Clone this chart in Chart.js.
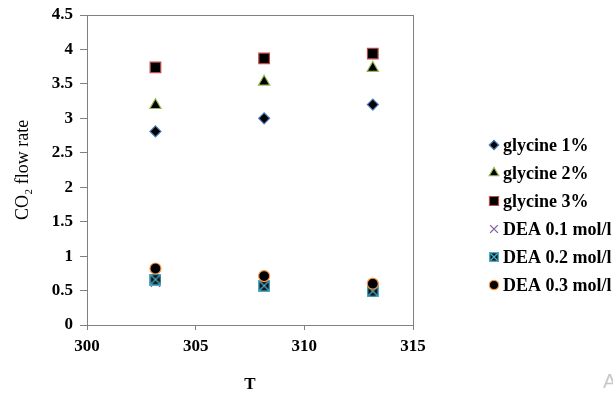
<!DOCTYPE html>
<html><head><meta charset="utf-8">
<script src="https://cdn.jsdelivr.net/npm/chart.js@4"></script>
<style>html,body{margin:0;padding:0;background:#fff;}#wrap{width:613px;height:398px;}</style>
</head><body><div id="wrap"><canvas id="c" width="613" height="398"></canvas></div>
<script>
const temperatures = [303.15, 308.15, 313.15];
const seriesNames = ['glycine 1%', 'glycine 2%', 'glycine 3%', 'DEA 0.1 mol/l', 'DEA 0.2 mol/l', 'DEA 0.3 mol/l'];
const glycine1 = [2.81, 3.00, 3.20];
const glycine2 = [3.19, 3.53, 3.73];
const glycine3 = [3.74, 3.87, 3.94];
const dea01 = [0.62, 0.56, 0.50];
const dea02 = [0.66, 0.57, 0.49];
const dea03 = [0.82, 0.71, 0.60];
const xTickValues = [300, 305, 310, 315];
const yTickValues = [0, 0.5, 1, 1.5, 2, 2.5, 3, 3.5, 4, 4.5];

function xMarker(size) {
  const c = document.createElement('canvas');
  c.width = size; c.height = size;
  const g = c.getContext('2d');
  g.fillStyle = '#0b0f14';
  g.fillRect(0, 0, size, size);
  g.strokeStyle = '#4bacc6';
  g.lineWidth = 1.4;
  g.strokeRect(0.7, 0.7, size - 1.4, size - 1.4);
  g.beginPath();
  g.moveTo(1.5, 1.5); g.lineTo(size - 1.5, size - 1.5);
  g.moveTo(size - 1.5, 1.5); g.lineTo(1.5, size - 1.5);
  g.stroke();
  return c;
}
const seriesValues = [glycine1, glycine2, glycine3, dea01, dea02, dea03];
const styles = [
  {pointStyle: 'rectRot', bg: '#000', border: '#4a7ebb', r: 5.5, bw: 1.2},
  {pointStyle: 'triangle', bg: '#000', border: '#98b954', r: 6.5, bw: 1.2},
  {pointStyle: 'rect', bg: '#000', border: '#be4b48', r: 7.5, bw: 1.2},
  {pointStyle: 'crossRot', bg: '#7d60a0', border: '#7d60a0', r: 6.5, bw: 1.3},
  {pointStyle: xMarker(12), bg: '#000', border: '#4bacc6', r: 6, bw: 1},
  {pointStyle: 'circle', bg: '#000', border: '#f79646', r: 5.5, bw: 1.2}
];
const legendMarkers = [xMarker(10)];

const datasets = seriesNames.map((name, i) => ({
  label: name,
  data: temperatures.map((t, j) => ({x: t, y: seriesValues[i][j]})),
  showLine: false,
  pointStyle: styles[i].pointStyle,
  pointRadius: styles[i].r,
  pointBackgroundColor: styles[i].bg,
  pointBorderColor: styles[i].border,
  pointBorderWidth: styles[i].bw,
  order: seriesNames.length - i
}));

const legendAndFrame = {
  id: 'legendAndFrame',
  beforeDatasetsDraw(chart) {
    const {ctx, chartArea: a} = chart;
    ctx.save();
    ctx.strokeStyle = '#808080';
    ctx.lineWidth = 1;
    ctx.strokeRect(Math.round(a.left) + 0.5, Math.round(a.top) + 0.5, Math.round(a.right - a.left), Math.round(a.bottom - a.top));
    ctx.restore();
  },
  afterDraw(chart) {
    const ctx = chart.ctx;
    ctx.save();
    chart.data.datasets.forEach((ds, i) => {
      const y = 145 + i * 28;
      const x = 494;
      const st = styles[i];
      ctx.fillStyle = st.bg;
      ctx.strokeStyle = st.border;
      ctx.lineWidth = st.bw;
      const ps = (typeof st.pointStyle === 'string') ? st.pointStyle : legendMarkers[0];
      Chart.helpers.drawPoint(ctx, {pointStyle: ps, rotation: 0, radius: st.r * 0.85, borderWidth: st.bw}, x, y);
      ctx.fillStyle = '#000';
      ctx.font = 'bold 18px "Liberation Serif"';
      ctx.textBaseline = 'middle';
      ctx.textAlign = 'left';
      ctx.fillText(ds.label, 503, y + 1);
    });
    ctx.fillStyle = '#c8c8c8';
    ctx.font = '20px "Liberation Sans"';
    ctx.textBaseline = 'alphabetic';
    ctx.fillText('A', 603, 388);
    ctx.restore();
  }
};

new Chart(document.getElementById('c'), {
  type: 'scatter',
  data: {datasets},
  plugins: [legendAndFrame],
  options: {
    responsive: false,
    animation: false,
    events: [],
    layout: {padding: {top: 15, right: 200, left: 0, bottom: 0}},
    plugins: {legend: {display: false}, tooltip: {enabled: false}},
    scales: {
      x: {
        type: 'linear', min: 300, max: 315,
        afterFit(s) { s.height = 73; },
        afterBuildTicks(s) { s.ticks = xTickValues.map(v => ({value: v})); },
        grid: {drawOnChartArea: false, drawTicks: true, tickLength: 5, color: '#808080'},
        border: {display: true, color: '#808080'},
        ticks: {color: '#000', padding: 6, callback: v => String(v), font: {family: '"Liberation Serif"', size: 17, weight: 'bold'}},
        title: {display: true, text: 'T', color: '#000', padding: {top: 0, bottom: 3}, font: {family: '"Liberation Serif"', size: 17, weight: 'bold'}}
      },
      y: {
        type: 'linear', min: 0, max: 4.5,
        afterFit(s) { s.width = 87; },
        afterBuildTicks(s) { s.ticks = yTickValues.map(v => ({value: v})); },
        grid: {drawOnChartArea: false, drawTicks: true, tickLength: 7, color: '#808080'},
        border: {display: true, color: '#808080'},
        ticks: {color: '#000', padding: 7, callback: v => String(v), font: {family: '"Liberation Serif"', size: 17, weight: 'bold', lineHeight: 0.9}},
        title: {display: true, text: 'CO₂ flow rate', color: '#000', padding: {top: 12, bottom: 0}, font: {family: '"Liberation Serif"', size: 18}}
      }
    }
  }
});
</script></body></html>
